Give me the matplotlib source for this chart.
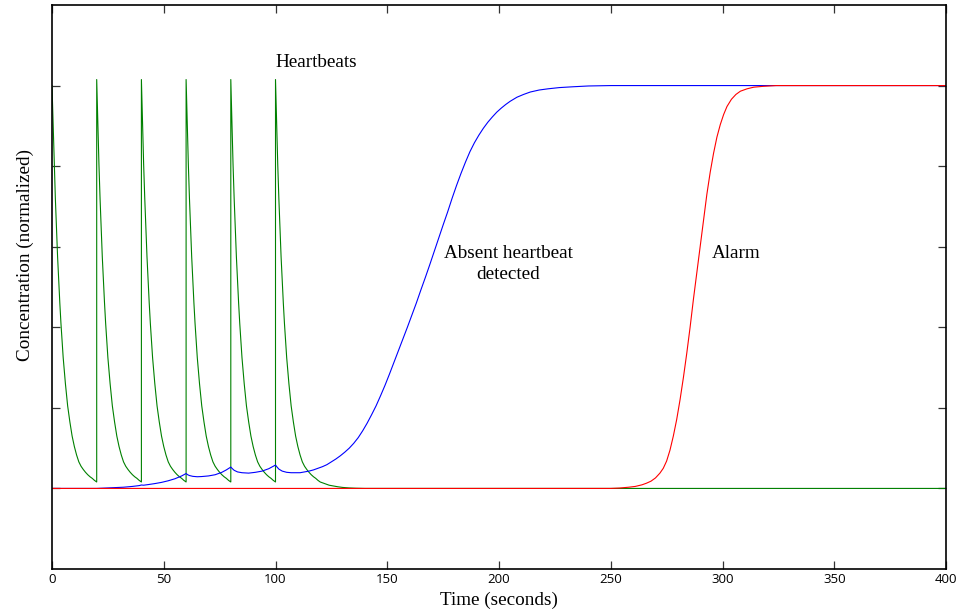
import matplotlib
matplotlib.use("Agg")
import matplotlib.pyplot as plt

# ---- data ----
beat_times = [0, 20, 40, 60, 80, 100]
first_peak = 1.0
# decay of the heartbeat signal after one beat (offset seconds, value)
decay_dt = [0, 0.5, 1, 1.5, 2, 2.5, 3, 3.5, 4, 5, 6, 7, 8, 9, 10, 11, 12, 13, 14,
            15, 16, 17, 18, 19, 20]
decay_val = [1.015, 0.905, 0.805, 0.72, 0.645, 0.575, 0.515, 0.46, 0.41, 0.325, 0.26,
             0.205, 0.165, 0.13, 0.104, 0.083, 0.066, 0.055, 0.047, 0.040, 0.034,
             0.029, 0.025, 0.020, 0.016]
# tail after the last beat
tail_dt = [21, 22, 23, 24, 26, 28, 30, 33, 36, 40]
tail_val = [0.014, 0.012, 0.010, 0.008, 0.006, 0.004, 0.0025, 0.0012, 0.0005, 0.0]
end_time = 400

blue_t = [0, 20, 24, 28, 32, 36, 39, 40, 41, 43, 46, 49, 52, 55, 58, 60, 60.7, 61.5,
          63, 65, 67, 70, 73, 76, 78, 80, 80.7, 81.5, 83, 85, 88, 91, 94, 97, 100,
          100.7, 101.5, 103, 105, 107, 109, 111, 113, 115, 117, 119, 121, 123, 125,
          127, 129, 131, 133, 135, 137, 139, 141, 143, 145, 147, 149, 151, 153, 155,
          157, 159, 161, 163, 165, 167, 169, 171, 173, 175, 177, 179, 181, 183, 185,
          187, 189, 191, 193, 195, 197, 199, 201, 203, 205, 208, 211, 214, 218, 222,
          227, 233, 240, 250, 400]
blue_v = [0, 0, 0.001, 0.002, 0.003, 0.005, 0.007, 0.0085, 0.008, 0.0095, 0.012,
          0.015, 0.019, 0.024, 0.031, 0.037, 0.034, 0.032, 0.030, 0.029, 0.0295, 0.031,
          0.034, 0.040, 0.046, 0.053, 0.049, 0.045, 0.041, 0.039, 0.038, 0.040, 0.043,
          0.049, 0.058, 0.053, 0.048, 0.043, 0.040, 0.039, 0.039, 0.039, 0.041, 0.043,
          0.046, 0.050, 0.054, 0.059, 0.066, 0.073, 0.081, 0.090, 0.100, 0.112, 0.126,
          0.143, 0.162, 0.183, 0.205, 0.23, 0.256, 0.284, 0.313, 0.342, 0.371, 0.40,
          0.43, 0.46, 0.492, 0.523, 0.555, 0.588, 0.621, 0.654, 0.686, 0.72, 0.752,
          0.782, 0.81, 0.836, 0.858, 0.877, 0.894, 0.909, 0.922, 0.934, 0.944, 0.953,
          0.961, 0.971, 0.978, 0.984, 0.989, 0.992, 0.995, 0.997, 0.999, 1.0, 1.0]

red_t = [0, 250, 254, 258, 261, 264, 266, 268, 270, 272, 273.5, 275, 276.5, 278,
         279.5, 281, 282.5, 284, 285.5, 287, 288.5, 290, 291.5, 293, 294.5, 296, 297.5,
         299, 300.5, 302, 304, 306, 308, 311, 314, 318, 324, 400]
red_v = [0, 0, 0.001, 0.003, 0.005, 0.009, 0.013, 0.018, 0.026, 0.038, 0.05, 0.068,
         0.095, 0.13, 0.171, 0.22, 0.275, 0.335, 0.40, 0.47, 0.535, 0.60, 0.665, 0.73,
         0.785, 0.832, 0.872, 0.903, 0.928, 0.948, 0.966, 0.978, 0.986, 0.992, 0.996,
         0.998, 1.0, 1.0]

x_ticks = [0, 50, 100, 150, 200, 250, 300, 350, 400]
y_ticks = [0, 0.2, 0.4, 0.6, 0.8, 1.0]

labels = {
    "Heartbeats": (100, 1.057, "left"),
    "Absent heartbeat\ndetected": (204, 0.557, "center"),
    "Alarm": (295, 0.584, "left"),
}

# ---- build the heartbeat series from the read profile ----
green_t, green_v = [], []
for i, t0 in enumerate(beat_times):
    vals = list(decay_val)
    if i == 0:
        vals[0] = first_peak
    for dt, v in zip(decay_dt, vals):
        green_t.append(t0 + dt)
        green_v.append(v)
last = beat_times[-1]
for dt, v in zip(tail_dt, tail_val):
    green_t.append(last + dt)
    green_v.append(v)
green_t.append(end_time)
green_v.append(0.0)

# ---- figure ----
fig = plt.figure(figsize=(9.70, 6.13), dpi=100)
ax = fig.add_axes([52 / 970, 1 - 569 / 613, (946 - 52) / 970, (569 - 5) / 613])

lw = 0.8
ax.plot(green_t, green_v, color="#008000", lw=lw)
ax.plot(blue_t, blue_v, color="#0000ff", lw=lw)
ax.plot(red_t, red_v, color="#ff0000", lw=lw)

ax.set_xlim(0, 400)
ax.set_ylim(-0.2, 1.2)
ax.set_xticks(x_ticks)
ax.set_xticklabels([str(v) for v in x_ticks], fontfamily="Open Sans", fontsize=9.5)
ax.set_yticks(y_ticks)
ax.set_yticklabels([])
ax.tick_params(direction="in", length=6, width=0.9, color="#333333",
               top=True, right=True, pad=3)
for s in ax.spines.values():
    s.set_linewidth(1.2)
    s.set_color("black")

serif = ["Liberation Serif", "DejaVu Serif"]
ax.set_xlabel("Time (seconds)", fontfamily=serif, fontsize=13.8, labelpad=4)
ax.set_ylabel("Concentration (normalized)", fontfamily=serif, fontsize=13.8)
ax.yaxis.set_label_coords(-0.020, 0.557)

for txt, (x, y, ha) in labels.items():
    ax.text(x, y, txt, fontfamily=serif, fontsize=13.8, ha=ha, va="center",
            multialignment="center", linespacing=1.35)

fig.savefig("out.png", dpi=100)
